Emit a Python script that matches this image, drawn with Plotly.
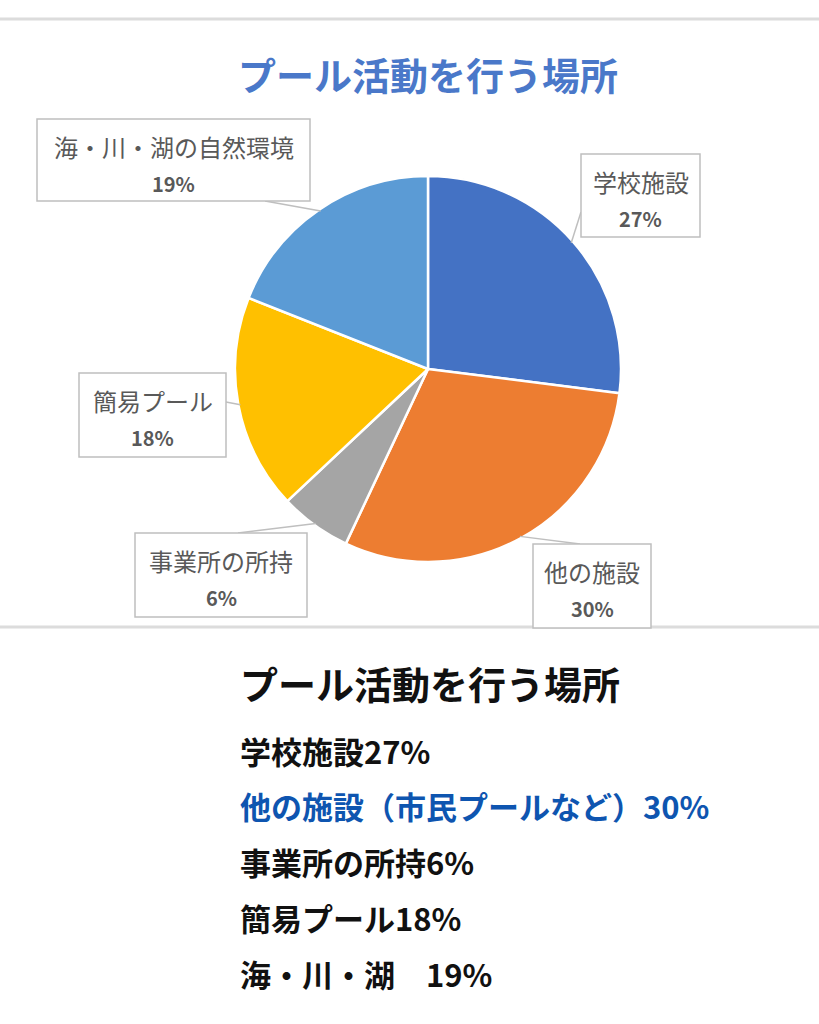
import math
import plotly.graph_objects as go

W, H = 819, 1024

# data
labels = ['学校施設', '他の施設', '事業所の所持', '簡易プール', '海・川・湖の自然環境']
values = [27, 30, 6, 18, 19]
colors = ['#4472C4', '#ED7D31', '#A5A5A5', '#FFC000', '#5B9BD5']
chart_title = 'プール活動を行う場所'
list_title = 'プール活動を行う場所'
list_items = ['学校施設27%', '他の施設（市民プールなど）30%', '事業所の所持6%',
              '簡易プール18%', '海・川・湖　19%']
list_colors = ['#111111', '#0e55b0', '#111111', '#111111', '#111111']

# layout of the callouts (pixel boxes x0, y0, x1, y1 and where the pointer leaves the box)
boxes = [(581, 154, 700, 237), (533, 544, 651, 628), (135, 533, 307, 617),
         (79, 373, 226, 457), (37, 119, 310, 201)]
anchors = [(581, 212), (580, 544), (238, 533), (226, 402), (265, 201)]

cx, cy, r = 428, 369, 193
font = 'Noto Sans CJK JP'


def px(x):
    return x / W


def py(y):
    return 1 - y / H


def note(text, x, y, size, color, xanchor='center'):
    return dict(text=text, x=px(x), y=py(y), xref='paper', yref='paper',
                xanchor=xanchor, yanchor='middle', showarrow=False,
                font=dict(family=font, size=size, color=color))


fig = go.Figure()
fig.add_trace(go.Pie(
    labels=labels, values=values,
    sort=False, direction='clockwise', rotation=0,
    marker=dict(colors=colors, line=dict(color='white', width=2.5)),
    textinfo='none', showlegend=False,
    domain=dict(x=[px(cx - r), px(cx + r)], y=[py(cy + r), py(cy - r)]),
))

shapes = []
annotations = []

# divider lines
for y in (19, 627):
    shapes.append(dict(type='line', xref='paper', yref='paper', x0=0, x1=1,
                       y0=py(y), y1=py(y), line=dict(color='#dcdcdc', width=3), layer='above'))

# callouts
total = sum(values)
cum = 0
for lab, v, box, anc in zip(labels, values, boxes, anchors):
    mid = (cum + v / 2) / total * 2 * math.pi
    cum += v
    ex = cx + (r - 2) * math.sin(mid)
    ey = cy - (r - 2) * math.cos(mid)
    shapes.append(dict(type='line', xref='paper', yref='paper',
                       x0=px(anc[0]), y0=py(anc[1]), x1=px(ex), y1=py(ey),
                       line=dict(color='#bfbfbf', width=1.5), layer='above'))
    x0, y0, x1, y1 = box
    shapes.append(dict(type='rect', xref='paper', yref='paper',
                       x0=px(x0), x1=px(x1), y0=py(y0), y1=py(y1),
                       line=dict(color='#bfbfbf', width=1.5), fillcolor='white', layer='above'))
    xc = (x0 + x1) / 2
    annotations.append(note(lab, xc, y0 + 27, 24, '#595959'))
    annotations.append(note(f'<b>{v}%</b>', xc, y0 + 64, 20, '#595959'))

annotations.append(note(f'<b>{chart_title}</b>', 428, 73, 38, '#4a78c9'))

# text below the chart
annotations.append(note(f'<b>{list_title}</b>', 238, 682, 38, '#111111', 'left'))
for i, (t, c) in enumerate(zip(list_items, list_colors)):
    annotations.append(note(f'<b>{t}</b>', 238, 750 + i * 55.8, 31, c, 'left'))

fig.update_layout(width=W, height=H, margin=dict(l=0, r=0, t=0, b=0),
                  paper_bgcolor='white', plot_bgcolor='white',
                  shapes=shapes, annotations=annotations)

fig.write_html('out.html', config={'displayModeBar': False},
               post_script="document.body.style.margin='0';")
